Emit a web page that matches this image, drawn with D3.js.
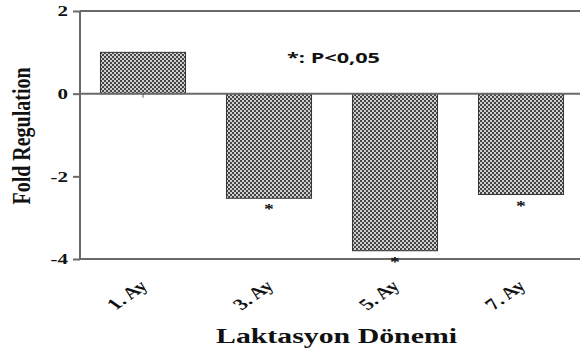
<!doctype html>
<html>
<head>
  <meta charset="utf-8">
  <title>d3</title>
  <style>
    body { margin: 0; background: #fff; }
  </style>
</head>
<body>
  <svg width="580" height="351"></svg>

  <script src="https://d3js.org/d3.v7.min.js"></script>
  <script>
    const categories = ['1. Ay', '3. Ay', '5. Ay', '7. Ay'];
    const values = [1.0, -2.53, -3.8, -2.44];
    const significant = [false, true, true, true];
    const yTicks = [2, 0, -2, -4];

    const svg = d3.select('svg');
    const plot = { left: 80, top: 11, bottom: 259, right: 584 };
    const serif = '"Liberation Serif", "Times New Roman", serif';
    const stretch = 1.4; // picture looks widened horizontally

    const x = d3.scaleBand()
      .domain(categories)
      .range([plot.left, plot.right])
      .paddingInner(0.325)
      .paddingOuter(0.1625);
    const y = d3.scaleLinear()
      .domain([-4, 2])
      .range([plot.bottom, plot.top]);

    // checkerboard fill
    const defs = svg.append('defs');
    const pat = defs.append('pattern')
      .attr('id', 'checks')
      .attr('patternUnits', 'userSpaceOnUse')
      .attr('width', 4).attr('height', 4);
    pat.append('rect').attr('width', 4).attr('height', 4).attr('fill', '#cfcfcf');
    pat.append('rect').attr('width', 2).attr('height', 2).attr('fill', '#454545');
    pat.append('rect').attr('x', 2).attr('y', 2).attr('width', 2).attr('height', 2).attr('fill', '#454545');

    // frame lines top / bottom
    svg.append('line')
      .attr('x1', plot.left).attr('x2', 580)
      .attr('y1', y(2)).attr('y2', y(2))
      .attr('stroke', '#6a6a6a').attr('stroke-width', 2);
    svg.append('line')
      .attr('x1', plot.left).attr('x2', 580)
      .attr('y1', y(-4)).attr('y2', y(-4))
      .attr('stroke', '#6a6a6a').attr('stroke-width', 2);

    // bars
    svg.append('g')
      .selectAll('rect')
      .data(values)
      .join('rect')
      .attr('x', (d, i) => x(categories[i]))
      .attr('width', x.bandwidth())
      .attr('y', d => y(Math.max(0, d)))
      .attr('height', d => Math.abs(y(d) - y(0)))
      .attr('fill', 'url(#checks)')
      .attr('stroke', '#333')
      .attr('stroke-width', 1);

    // zero axis
    const xAxis = svg.append('g')
      .attr('transform', `translate(0, ${y(0)})`)
      .call(d3.axisBottom(x).tickSize(4).tickFormat(''));
    xAxis.select('.domain').attr('stroke', '#6a6a6a').attr('stroke-width', 2)
      .attr('d', `M${plot.left},0H580`);
    xAxis.selectAll('.tick line').attr('stroke', '#555');

    // y axis
    const yAxis = svg.append('g')
      .attr('transform', `translate(${plot.left}, 0)`)
      .call(d3.axisLeft(y).tickValues(yTicks).tickSize(7).tickPadding(4));
    yAxis.select('.domain').attr('stroke', '#6a6a6a').attr('stroke-width', 2)
      .attr('d', `M0,${y(2)}V${y(-4)}`);
    yAxis.selectAll('.tick line').attr('stroke', '#6a6a6a').attr('stroke-width', 2);
    yAxis.selectAll('.tick text')
      .text(d => d < 0 ? '-' + Math.abs(d) : d)
      .attr('x', -12 / stretch)
      .attr('transform', `scale(${stretch},1)`)
      .attr('font-family', serif)
      .attr('font-weight', 'bold')
      .attr('font-size', 15)
      .attr('fill', '#111');

    // significance stars
    svg.append('g')
      .selectAll('text')
      .data(values.map((d, i) => ({ d, i })).filter(o => significant[o.i]))
      .join('text')
      .attr('transform', o => `translate(${x(categories[o.i]) + x.bandwidth() / 2}, ${y(o.d) + 16}) scale(${stretch},1)`)
      .attr('text-anchor', 'middle')
      .attr('font-family', serif)
      .attr('font-weight', 'bold')
      .attr('font-size', 14)
      .attr('fill', '#111')
      .text('*');

    // x tick labels, rotated
    svg.append('g')
      .selectAll('text')
      .data(categories)
      .join('text')
      .attr('transform', d => `translate(${x(d) + x.bandwidth() / 2 + 6}, 287) scale(${stretch},1) rotate(-45)`)
      .attr('text-anchor', 'end')
      .attr('font-family', serif)
      .attr('font-weight', 'bold')
      .attr('font-size', 16)
      .attr('fill', '#111')
      .text(d => d);

    // axis titles
    svg.append('text')
      .attr('transform', `translate(30, 136) scale(1.25,1) rotate(-90)`)
      .attr('text-anchor', 'middle')
      .attr('font-family', serif)
      .attr('font-weight', 'bold')
      .attr('font-size', 20)
      .attr('fill', '#111')
      .text('Fold Regulation');

    svg.append('text')
      .attr('x', 216).attr('y', 343)
      .attr('textLength', 241)
      .attr('lengthAdjust', 'spacingAndGlyphs')
      .attr('font-family', serif)
      .attr('font-weight', 'bold')
      .attr('font-size', 22)
      .attr('fill', '#111')
      .text('Laktasyon Dönemi');

    // p-value note
    svg.append('text')
      .attr('x', 287).attr('y', 63)
      .attr('textLength', 93)
      .attr('lengthAdjust', 'spacingAndGlyphs')
      .attr('font-family', '"Open Sans", "DejaVu Sans", sans-serif')
      .attr('font-weight', 'bold')
      .attr('font-size', 14)
      .attr('fill', '#111')
      .text('*: P<0,05');
  </script>
</body>
</html>
